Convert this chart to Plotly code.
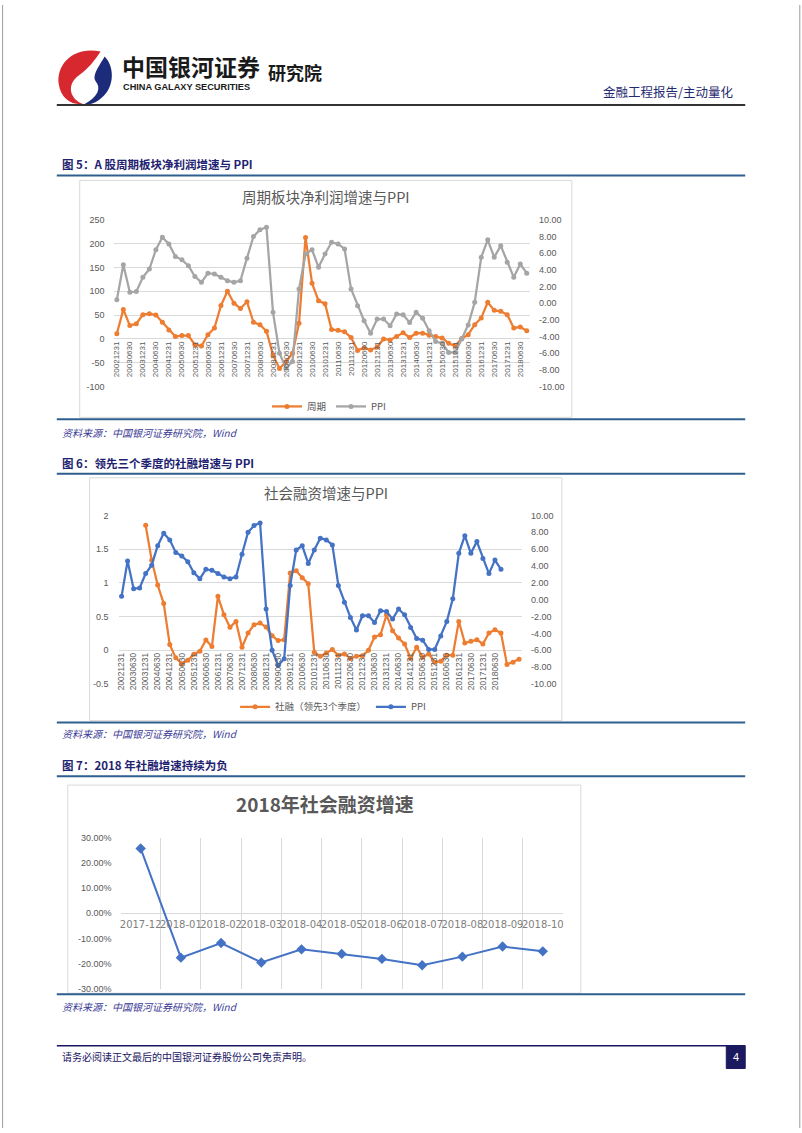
import plotly.graph_objects as go

W, H = 802, 1133


def X(px):
    return px / W


def Y(py):
    return 1 - py / H


# ---------------- data ----------------
QUARTERS = [
    "20021231",
    "20030331", "20030630", "20030930", "20031231",
    "20040331", "20040630", "20040930", "20041231",
    "20050331", "20050630", "20050930", "20051231",
    "20060331", "20060630", "20060930", "20061231",
    "20070331", "20070630", "20070930", "20071231",
    "20080331", "20080630", "20080930", "20081231",
    "20090331", "20090630", "20090930", "20091231",
    "20100331", "20100630", "20100930", "20101231",
    "20110331", "20110630", "20110930", "20111231",
    "20120331", "20120630", "20120930", "20121231",
    "20130331", "20130630", "20130930", "20131231",
    "20140331", "20140630", "20140930", "20141231",
    "20150331", "20150630", "20150930", "20151231",
    "20160331", "20160630", "20160930", "20161231",
    "20170331", "20170630", "20170930", "20171231",
    "20180331", "20180630", "20180930", "20181231",
    "20190331", "20190630",
]

# Chart 1: cyclical sector net profit growth (left axis) and PPI (right axis)
CYCLE_PROFIT = [
    11, 62, 28, 32, 51, 53, 50, 35, 19, 5,
    7, 7, -12, -15, 9, 23, 70, 100, 75, 64,
    78, 35, 30, 16, -34, -62, -48, -30, 33, 213,
    117, 80, 74, 20, 18, 15, 3, -24, -19, -23,
    -17, 0, -2, 5, 13, 3, 12, 12, 8, 5,
    2, -9, -15, 1, 9, 30, 44, 77, 60, 58,
    51, 23, 25, 17,
]
PPI = [
    0.4, 4.6, 1.3, 1.4, 3.1, 4.1, 6.4, 7.9, 7.1, 5.6,
    5.2, 4.5, 3.2, 2.5, 3.6, 3.5, 3.1, 2.7, 2.5, 2.7,
    5.4, 8.0, 8.8, 9.1, -1.1, -6.0, -7.8, -7.0, 1.7, 5.9,
    6.4, 4.3, 5.9, 7.3, 7.1, 6.5, 1.7, -0.3, -2.1, -3.6,
    -1.9, -1.9, -2.7, -1.3, -1.4, -2.3, -1.1, -1.8, -3.3, -4.6,
    -4.8, -5.9, -5.9, -4.3, -2.6, 0.1, 5.5, 7.6, 5.5, 6.9,
    4.9, 3.1, 4.7, 3.6,
]

# Chart 2: social financing growth (leading 3 quarters), left axis
TSF_LEAD = [
    None, None, None, None,
    1.853, 1.337, 0.968, 0.693, 0.084, -0.113,
    -0.200, -0.150, -0.060, -0.015, 0.152, 0.054, 0.800, 0.526, 0.340, 0.428,
    0.044, 0.256, 0.379, 0.403, 0.344, 0.216, 0.143, 0.157, 1.145, 1.180,
    1.077, 0.988, -0.030, -0.090, -0.040, 0.010, -0.074, -0.054, -0.123, -0.089,
    -0.080, 0.000, 0.197, 0.230, 0.526, 0.290, 0.180, 0.093, -0.123, 0.044,
    -0.103, -0.054, -0.177, -0.162, -0.074, -0.074, 0.428, 0.108, 0.133, 0.157,
    0.093, 0.256, 0.305, 0.256, -0.211, -0.177, -0.133,
]

# Chart 3: 2018 social financing growth
MONTHS_2018 = ["2017-12", "2018-01", "2018-02", "2018-03", "2018-04", "2018-05",
               "2018-06", "2018-07", "2018-08", "2018-09", "2018-10"]
TSF_2018 = [0.257, -0.176, -0.118, -0.195, -0.143, -0.161,
            -0.181, -0.206, -0.172, -0.132, -0.151]

# tick labels
C1_XTICKS = QUARTERS[0:63:2]
C2_XTICKS = QUARTERS[0:63:2]
C1_LEFT_TICKS = [250, 200, 150, 100, 50, 0, -50, -100]
RIGHT_TICKS = [10, 8, 6, 4, 2, 0, -2, -4, -6, -8, -10]
RIGHT_TICKTEXT = [f"{v:.2f}" for v in RIGHT_TICKS]
C2_LEFT_TICKS = [2, 1.5, 1, 0.5, 0, -0.5]
C2_LEFT_TICKTEXT = ["2", "1.5", "1", "0.5", "0", "-0.5"]
C3_TICKS = [0.3, 0.2, 0.1, 0.0, -0.1, -0.2, -0.3]
C3_TICKTEXT = ["30.00%", "20.00%", "10.00%", "0.00%", "-10.00%", "-20.00%", "-30.00%"]

# ---------------- styles ----------------
ORANGE = "#ED7D31"
GRAY = "#A5A5A5"
BLUE = "#4472C4"
GRID = "#D9D9D9"
TXT = "#595959"
NAVY = "#1E2270"
RULE = "#2F5F8F"
CJK = "Noto Sans CJK SC"
NUM = "Liberation Sans"

num_font = dict(family=NUM, size=9, color=TXT)

fig = go.Figure()

# ---------------- chart 1 ----------------
fig.add_trace(go.Scatter(
    x=QUARTERS[:64], y=CYCLE_PROFIT, name="周期", mode="lines+markers",
    line=dict(color=ORANGE, width=2.25), marker=dict(size=5, color=ORANGE),
    xaxis="x", yaxis="y", legend="legend"))
fig.add_trace(go.Scatter(
    x=QUARTERS[:64], y=PPI, name="PPI", mode="lines+markers",
    line=dict(color=GRAY, width=2.25), marker=dict(size=5, color=GRAY),
    xaxis="x", yaxis="y2", legend="legend"))

# ---------------- chart 2 ----------------
fig.add_trace(go.Scatter(
    x=QUARTERS, y=TSF_LEAD, name="社融（领先3个季度）", mode="lines+markers",
    line=dict(color=ORANGE, width=2.25), marker=dict(size=5, color=ORANGE),
    xaxis="x2", yaxis="y3", legend="legend2"))
fig.add_trace(go.Scatter(
    x=QUARTERS[:64], y=PPI, name="PPI", mode="lines+markers",
    line=dict(color=BLUE, width=2.25), marker=dict(size=5, color=BLUE),
    xaxis="x2", yaxis="y4", legend="legend2"))

# ---------------- chart 3 ----------------
fig.add_trace(go.Scatter(
    x=MONTHS_2018, y=TSF_2018, name="社会融资增速", mode="lines+markers",
    line=dict(color=BLUE, width=2), marker=dict(size=8, color=BLUE, symbol="diamond"),
    xaxis="x3", yaxis="y5", showlegend=False))

# axis domains (from pixel positions)
c1_ydom = [Y(385), Y(216.7)]
c1_zero = c1_ydom[0] + (0 - (-100)) / 350 * (c1_ydom[1] - c1_ydom[0])
c2_ydom = [Y(685), Y(515)]
c2_zero = c2_ydom[0] + (0 - (-0.5)) / 2.5 * (c2_ydom[1] - c2_ydom[0])
c3_ydom = [Y(992.7), Y(840)]
c3_zero = c3_ydom[0] + 0.5 * (c3_ydom[1] - c3_ydom[0])

cat_axis = dict(type="category", showgrid=False, zeroline=False, showline=False,
                ticks="", tickangle=-90, anchor="free")

fig.update_layout(
    xaxis=dict(**cat_axis, domain=[X(112), X(530)], position=c1_zero,
               categoryorder="array", categoryarray=QUARTERS[:64],
               range=[-0.5, 63.5], tickmode="array", tickvals=C1_XTICKS,
               ticktext=C1_XTICKS, tickfont=dict(family=NUM, size=8, color=TXT)),
    yaxis=dict(domain=c1_ydom, anchor="x", range=[-100, 250], tickmode="array",
               tickvals=C1_LEFT_TICKS, ticktext=[str(v) for v in C1_LEFT_TICKS],
               showgrid=True, gridcolor=GRID, gridwidth=1, zeroline=False,
               showline=False, ticks="", ticklabelstandoff=8, tickfont=num_font),
    yaxis2=dict(overlaying="y", side="right", anchor="x", range=[-10, 10],
                tickmode="array", tickvals=RIGHT_TICKS, ticktext=RIGHT_TICKTEXT,
                showgrid=False, zeroline=False, showline=False, ticks="",
                ticklabelstandoff=8, tickfont=num_font),
    xaxis2=dict(**cat_axis, domain=[X(117), X(522)], position=c2_zero,
                categoryorder="array", categoryarray=QUARTERS,
                range=[-0.5, 66.5], tickmode="array", tickvals=C2_XTICKS,
                ticktext=C2_XTICKS, tickfont=dict(family=NUM, size=8.4, color=TXT)),
    yaxis3=dict(domain=c2_ydom, anchor="x2", range=[-0.5, 2], tickmode="array",
                tickvals=C2_LEFT_TICKS, ticktext=C2_LEFT_TICKTEXT,
                showgrid=True, gridcolor=GRID, gridwidth=1, zeroline=False,
                showline=False, ticks="", ticklabelstandoff=9, tickfont=num_font),
    yaxis4=dict(overlaying="y3", side="right", anchor="x2", range=[-10, 10],
                tickmode="array", tickvals=RIGHT_TICKS, ticktext=RIGHT_TICKTEXT,
                showgrid=False, zeroline=False, showline=False, ticks="",
                ticklabelstandoff=8, tickfont=num_font),
    xaxis3=dict(type="category", domain=[X(119), X(563)], anchor="free",
                position=c3_zero, range=[-0.5, 10.5], tickson="boundaries",
                showgrid=True, gridcolor=GRID, gridwidth=1, showline=False,
                zeroline=False, ticks="", tickangle=0, ticklabelstandoff=4,
                tickfont=dict(family="DejaVu Sans", size=10, color="#808080")),
    yaxis5=dict(domain=c3_ydom, anchor="x3", range=[-0.3, 0.3], tickmode="array",
                tickvals=C3_TICKS, ticktext=C3_TICKTEXT, showgrid=False,
                zeroline=True, zerolinecolor=GRID, zerolinewidth=1,
                showline=False, ticks="", ticklabelstandoff=8, tickfont=num_font),
    legend=dict(orientation="h", x=X(266), y=Y(405), xanchor="left",
                yanchor="middle", bgcolor="rgba(0,0,0,0)", itemwidth=30,
                font=dict(family=CJK, size=9.5, color=TXT)),
    legend2=dict(orientation="h", x=X(234), y=Y(708), xanchor="left",
                 yanchor="middle", bgcolor="rgba(0,0,0,0)", itemwidth=30,
                 font=dict(family=CJK, size=9.5, color=TXT)),
)

# ---------------- page decorations ----------------
shapes = []
annotations = []


def hline(x0, x1, y, color, width):
    shapes.append(dict(type="line", xref="paper", yref="paper",
                       x0=X(x0), x1=X(x1), y0=Y(y), y1=Y(y),
                       line=dict(color=color, width=width)))


def box(x0, y0, x1, y1, line_color, fill="rgba(0,0,0,0)", layer="below", width=1):
    shapes.append(dict(type="rect", xref="paper", yref="paper",
                       x0=X(x0), x1=X(x1), y0=Y(y1), y1=Y(y0),
                       line=dict(color=line_color, width=width),
                       fillcolor=fill, layer=layer))


def text(s, x, y, size, color, family=CJK, xanchor="left", yanchor="middle"):
    annotations.append(dict(text=s, x=X(x), y=Y(y), xref="paper", yref="paper",
                            showarrow=False, xanchor=xanchor, yanchor=yanchor,
                            font=dict(family=family, size=size, color=color)))


def path(points):
    out = []
    for cmd, pts in points:
        coords = " ".join(f"{X(px):.5f},{Y(py):.5f}" for px, py in pts)
        out.append(cmd + " " + coords if pts else cmd)
    return " ".join(out)


# page side borders
for xx in (0.6, 800.8):
    shapes.append(dict(type="line", xref="paper", yref="paper", x0=X(xx), x1=X(xx),
                       y0=0, y1=1, line=dict(color="#9A9A9A", width=1)))

# logo (red and blue swirl)
shapes.append(dict(type="path", xref="paper", yref="paper", fillcolor="#D7282F",
                   line=dict(width=0),
                   path=path([("M", [(99, 47)]),
                              ("C", [(74, 41), (54, 58), (57, 80)]),
                              ("C", [(59, 94), (69, 101), (81, 100)]),
                              ("C", [(66, 93), (66, 79), (77, 71)]),
                              ("C", [(87, 64), (93, 56), (99, 47)]),
                              ("Z", [])])))
shapes.append(dict(type="path", xref="paper", yref="paper", fillcolor="#1D2C7A",
                   line=dict(width=0),
                   path=path([("M", [(103, 52)]),
                              ("C", [(114, 63), (113, 86), (97, 96)]),
                              ("C", [(91, 100), (86, 101), (83, 100)]),
                              ("C", [(96, 93), (100, 84), (94, 77)]),
                              ("C", [(90, 71), (98, 61), (103, 52)]),
                              ("Z", [])])))

text("<b>中国银河证券</b>", 118, 62, 23, "#1A1A1A")
text("<b>CHINA GALAXY SECURITIES</b>", 119, 83, 9.2, "#1A1A1A", family=NUM)
text("<b>研究院</b>", 265, 68, 18, "#1A1A1A")
text("金融工程报告/主动量化", 736, 87, 12.5, "#1F2A70", xanchor="right")
hline(55, 746, 101, "#333333", 2)

# captions, rules, sources
text("<b>图 5：A 股周期板块净利润增速与 PPI</b>", 58, 160, 11.5, NAVY)
hline(55, 746, 172, RULE, 2)
box(78, 177, 572, 416, GRID)
hline(55, 746, 418, RULE, 2)
text("<i>资料来源：中国银河证券研究院，Wind</i>", 58, 431, 10, "#3B3B95")

text("<b>图 6：领先三个季度的社融增速与 PPI</b>", 58, 462, 11.5, NAVY)
hline(55, 746, 473, RULE, 2)
box(88, 477, 562, 722, GRID)
hline(55, 746, 724, RULE, 2)
text("<i>资料来源：中国银河证券研究院，Wind</i>", 58, 735, 10, "#3B3B95")

text("<b>图 7：2018 年社融增速持续为负</b>", 58, 767, 11.5, NAVY)
hline(55, 746, 778, RULE, 2)
box(66, 787, 581, 997, GRID)
hline(55, 746, 998, RULE, 2)
text("<i>资料来源：中国银河证券研究院，Wind</i>", 58, 1010, 10, "#3B3B95")

# chart titles
text("周期板块净利润增速与PPI", 325, 193, 14.5, TXT, xanchor="center")
text("社会融资增速与PPI", 325, 492, 14.5, TXT, xanchor="center")
text("<b>2018年社会融资增速</b>", 324, 806, 19, TXT, xanchor="center")

# footer
hline(55, 746, 1050, "#1B1464", 1.5)
text("请务必阅读正文最后的中国银河证券股份公司免责声明。", 58, 1061, 10, "#1B1464")
box(727, 1050, 746, 1073, "#1B1A5E", fill="#1B1A5E", layer="above")
text("4", 736.5, 1061.5, 11, "white", family=NUM, xanchor="center")

fig.update_layout(
    width=W, height=H, margin=dict(l=0, r=0, t=0, b=0),
    paper_bgcolor="white", plot_bgcolor="rgba(0,0,0,0)",
    shapes=shapes, annotations=annotations,
    font=dict(family=CJK, color=TXT),
)

fig.write_html("out.html")
